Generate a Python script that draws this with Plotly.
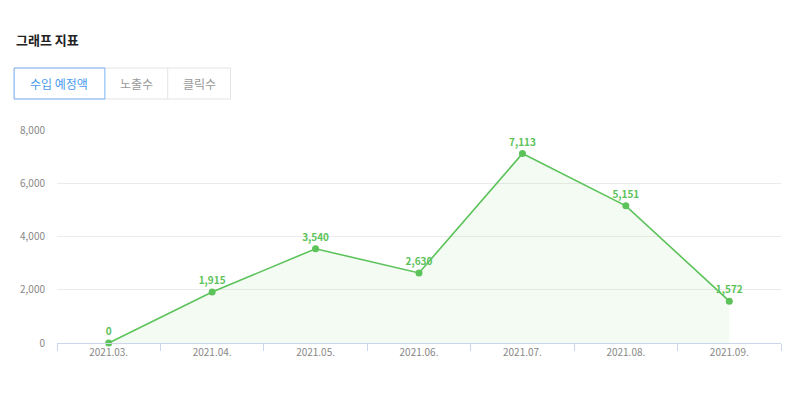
import plotly.graph_objects as go

months = ["2021.03.", "2021.04.", "2021.05.", "2021.06.", "2021.07.", "2021.08.", "2021.09."]
revenue = [0, 1915, 3540, 2630, 7113, 5151, 1572]
y_ticks = [0, 2000, 4000, 6000, 8000]
title_text = "그래프 지표"
tab_labels = ["수입 예정액", "노출수", "클릭수"]

OFF = 8  # page body margin offset
W, H = 800, 394
ML, MT = 55 - OFF, 130 - OFF
RIGHT, BOTTOM = 781 - OFF, 343 - OFF
MR, MB = W - RIGHT, H - BOTTOM
PW, PH = RIGHT - ML, BOTTOM - MT

def px(x):
    return (x - OFF - ML) / PW

def py(y):
    return (BOTTOM - (y - OFF)) / PH

GREEN = "#5cc35a"
FONT = "Noto Sans CJK KR, Noto Sans, sans-serif"

fig = go.Figure()
fig.add_trace(go.Scatter(
    x=months, y=revenue, mode="lines+markers+text",
    line=dict(color=GREEN, width=1.6),
    marker=dict(color=GREEN, size=7),
    fill="tozeroy", fillcolor="rgba(92,195,90,0.07)",
    text=[f"{v:,}" for v in revenue], textposition="top center",
    textfont=dict(color=GREEN, size=10, family=FONT, weight="bold"),
    cliponaxis=False, hoverinfo="skip", showlegend=False,
))

shapes = []
annotations = []
annotations.append(dict(xref="paper", yref="paper", x=px(12), y=py(40), text=title_text,
                        showarrow=False, xanchor="left", yanchor="middle",
                        font=dict(size=13, color="#222222", family=FONT, weight="bold")))
tabs = [(12, 103), (103, 166), (166, 229)]
shapes.append(dict(type="rect", xref="paper", yref="paper", x0=px(12), x1=px(229), y0=py(99), y1=py(68),
                   line=dict(color="#e4e4e4", width=1), fillcolor="white", layer="below"))
shapes.append(dict(type="line", xref="paper", yref="paper", x0=px(166), x1=px(166), y0=py(99), y1=py(68),
                   line=dict(color="#e4e4e4", width=1)))
for i, ((a, b), lab) in enumerate(zip(tabs, tab_labels)):
    if i == 0:
        shapes.append(dict(type="rect", xref="paper", yref="paper", x0=px(a), x1=px(b), y0=py(99), y1=py(68),
                           line=dict(color="#7ab3f7", width=1)))
    annotations.append(dict(xref="paper", yref="paper", x=px((a + b) / 2), y=py(83.5), text=lab,
                            showarrow=False, xanchor="center", yanchor="middle",
                            font=dict(size=12, color="#4a9af0" if i == 0 else "#999999", family=FONT)))

fig.update_layout(
    width=W, height=H, margin=dict(l=ML, r=MR, t=MT, b=MB, pad=0),
    paper_bgcolor="white", plot_bgcolor="white",
    font=dict(family=FONT),
    shapes=shapes, annotations=annotations,
    xaxis=dict(type="category", range=[-0.5, 6.5], tickson="boundaries", ticks="outside", ticklen=7,
               tickcolor="#ccd6eb", showline=True, linecolor="#ccd6eb", linewidth=1, showgrid=False,
               tickfont=dict(size=10, color="#888888"), fixedrange=True),
    yaxis=dict(range=[0, 8000], tickvals=y_ticks, tickformat=",", showgrid=True, gridcolor="#ebebeb",
               zeroline=False, showline=False, ticks="", ticklabelstandoff=11,
               tickfont=dict(size=10, color="#888888"), fixedrange=True),
)

fig.write_html("out.html")
